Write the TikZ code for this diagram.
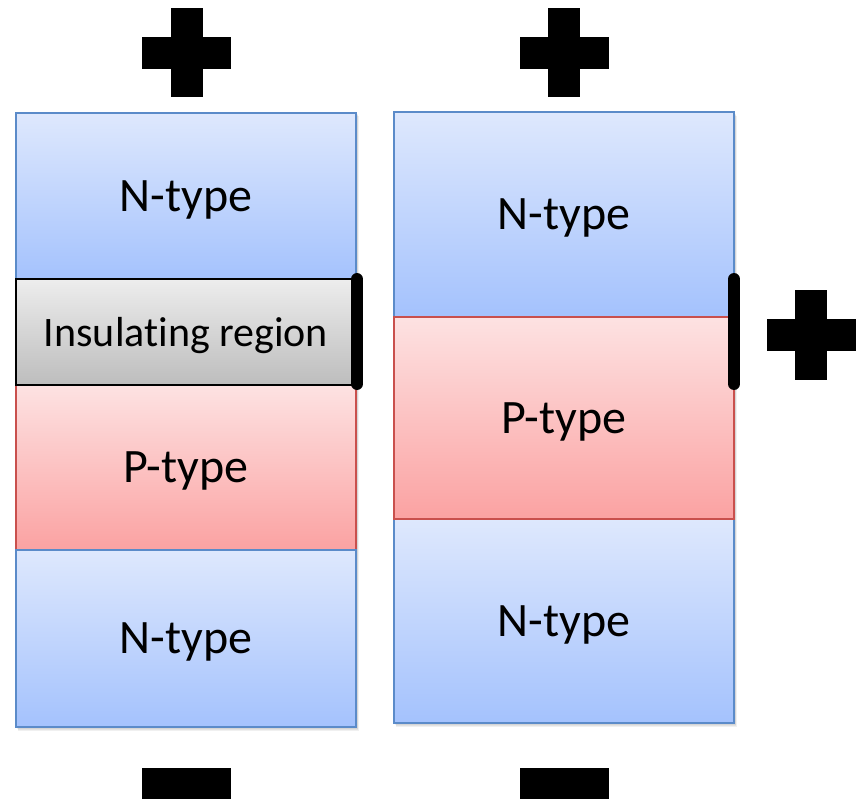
\documentclass[tikz,border=0pt]{standalone}
\usepackage{fontspec}
\setmainfont{Carlito}[Ligatures={NoCommon}]
\definecolor{nborder}{HTML}{5B8BC9}
\definecolor{ntop}{HTML}{DEE8FD}
\definecolor{nbot}{HTML}{A4C2FD}
\definecolor{pborder}{HTML}{C9504D}
\definecolor{ptop}{HTML}{FDE2E2}
\definecolor{pbot}{HTML}{FBA2A2}
\definecolor{itop}{HTML}{EDEDED}
\definecolor{ibot}{HTML}{BDBDBD}
\tikzset{
  region/.style={rectangle, inner sep=0pt, line width=1.6pt, text depth=0pt, font=\fontsize{48}{52}\selectfont, minimum width=340pt},
  nbox/.style={region, draw=nborder, top color=ntop, bottom color=nbot},
  pbox/.style={region, draw=pborder, top color=ptop, bottom color=pbot},
  ibox/.style={region, draw=black, top color=itop, bottom color=ibot, font=\fontsize{42}{46}\selectfont},
  gatebar/.style={line width=12pt, line cap=round, black},
  signfill/.style={fill=black, draw=none},
  colshadow/.style={fill=black, opacity=0.06, draw=none}
}
\begin{document}
\begin{tikzpicture}[x=1pt,y=-1pt]
\useasboundingbox (0,0) rectangle (856,799);
% soft shadows
\foreach \d in {0,1,2,3}{
  \fill[colshadow] (17+\d*0.3,113+\d) rectangle (357+\d*0.6,728+\d);
  \fill[colshadow] (395+\d*0.3,113+\d) rectangle (735+\d*0.6,724+\d);
}
% left column
\node[nbox, minimum height=167pt] (ln1) at (186,196.5) {N-type};
\node[pbox, minimum height=165pt] (lp) at (186,467.5) {P-type};
\node[nbox, minimum height=177pt] (ln2) at (186,638.5) {N-type};
\node[ibox, minimum height=106pt] (li) at (186,332) {Insulating region};
% right column
\node[nbox, minimum height=205pt] (rn1) at (564,214.5) {N-type};
\node[nbox, minimum height=204pt] (rn2) at (564,621) {N-type};
\node[pbox, minimum height=202pt] (rp) at (564,418) {P-type};
% gate contacts
\coordinate (lg1) at (357,279);
\coordinate (lg2) at (357,384);
\draw[gatebar] (lg1) -- (lg2);
\coordinate (rg1) at (734,279);
\coordinate (rg2) at (734,384);
\draw[gatebar] (rg1) -- (rg2);
% plus signs
\foreach \cx/\cy in {186.5/53, 564/53, 811/335}{
  \fill[signfill] (\cx-44.5,\cy-16) rectangle (\cx+44.5,\cy+16);
  \fill[signfill] (\cx-16,\cy-44.5) rectangle (\cx+16,\cy+44.5);
}
% minus signs
\fill[signfill] (142,768) rectangle (231,799);
\fill[signfill] (520,768) rectangle (609,799);
\end{tikzpicture}
\end{document}
